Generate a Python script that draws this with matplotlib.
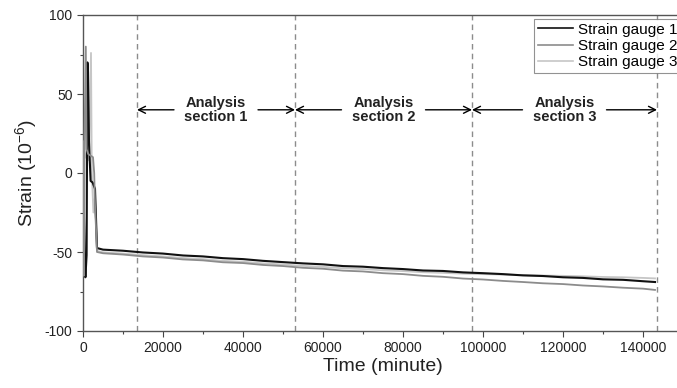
import matplotlib
matplotlib.use("Agg")
import matplotlib.pyplot as plt
from matplotlib.ticker import MultipleLocator

plt.rcParams["font.family"] = ["Liberation Sans", "DejaVu Sans"]
plt.rcParams["mathtext.default"] = "regular"
plt.rcParams["axes.unicode_minus"] = False

# ── Data ───────────────────────────────────────────────────────────
# start-up transient (minutes, microstrain)
t_start_1 = [0, 400, 600, 900, 1100, 1250, 1500, 1900, 2400, 3000]
g1_start = [15, -55, -66, -52, 70, 64, 20, -5, -6, -10]

t_start_2 = [0, 200, 400, 700, 900, 1300, 2500, 2800, 3000]
g2_start = [20, -65, 24, 80, 15, 12, 10, 0, -20]

t_start_3 = [0, 600, 1500, 2000, 2200, 2600, 3000]
g3_start = [20, 10, 8, 76, 0, -25, -15]

# long-term creep
t_steady = [3500, 5000, 10000, 15000, 20000, 25000, 30000, 35000, 40000, 45000,
            50000, 55000, 60000, 65000, 70000, 75000, 80000, 85000, 90000, 95000,
            100000, 105000, 110000, 115000, 120000, 125000, 130000, 135000, 140000, 143000]
g1_steady = [-47.5, -48.5, -49.2, -50.3, -51.0, -52.2, -52.8, -53.9, -54.5, -55.6,
             -56.4, -57.2, -57.8, -58.9, -59.3, -60.2, -60.8, -61.7, -62.0, -62.9,
             -63.4, -64.0, -64.8, -65.2, -66.0, -66.4, -67.3, -67.6, -68.5, -69.0]
g2_steady = [-50.0, -50.8, -51.6, -52.8, -53.5, -54.7, -55.3, -56.5, -57.0, -58.2,
             -58.9, -60.0, -60.6, -61.8, -62.3, -63.4, -64.0, -65.1, -65.7, -66.8,
             -67.4, -68.3, -69.0, -69.8, -70.3, -71.2, -71.8, -72.6, -73.2, -74.0]
g3_steady = [-49.3, -50.2, -51.0, -52.0, -52.8, -53.8, -54.5, -55.6, -56.2, -57.2,
             -57.9, -58.8, -59.4, -60.3, -60.8, -61.6, -62.1, -62.8, -63.2, -63.7,
             -64.0, -64.3, -64.6, -64.9, -65.1, -65.4, -65.8, -66.0, -66.4, -66.7]

section_bounds = [13500, 53000, 97250, 143500]
section_names = ["Analysis\nsection 1", "Analysis\nsection 2", "Analysis\nsection 3"]
arrow_y = 40

# ── Figure ─────────────────────────────────────────────────────────
fig = plt.figure(figsize=(6.77, 3.88), dpi=100)
ax = fig.add_axes([83 / 677, 1 - 331 / 388, 600 / 677, 316 / 388])

ax.plot(t_start_1 + t_steady, g1_start + g1_steady, color="#111111", lw=1.5, label="Strain gauge 1", zorder=2)
ax.plot(t_start_2 + t_steady, g2_start + g2_steady, color="#8c8c8c", lw=1.3, label="Strain gauge 2", zorder=3)
ax.plot(t_start_3 + t_steady, g3_start + g3_steady, color="#c6c6c6", lw=1.3, label="Strain gauge 3", zorder=1)

for xb in section_bounds:
    ax.axvline(xb, color="#8c8c8c", ls=(0, (4, 3)), lw=1.0, zorder=0)

# arrows and labels for each section
for i, name in enumerate(section_names):
    x0, x1 = section_bounds[i], section_bounds[i + 1]
    xc = (x0 + x1) / 2
    gap = 10500
    arrow = dict(arrowstyle="->,head_length=0.5,head_width=0.25", color="black", lw=1.0,
                 shrinkA=0, shrinkB=0)
    ax.annotate("", xy=(x0, arrow_y), xytext=(xc - gap, arrow_y), arrowprops=arrow)
    ax.annotate("", xy=(x1, arrow_y), xytext=(xc + gap, arrow_y), arrowprops=arrow)
    ax.text(xc, arrow_y, name, ha="center", va="center", fontsize=10.5,
            fontweight="bold", color="#222222", linespacing=1.05)

ax.set_xlim(0, 150000)
ax.set_ylim(-100, 100)
ax.xaxis.set_major_locator(MultipleLocator(20000))
ax.xaxis.set_minor_locator(MultipleLocator(10000))
ax.yaxis.set_major_locator(MultipleLocator(50))
ax.yaxis.set_minor_locator(MultipleLocator(25))
ax.tick_params(which="major", length=4, width=0.8, colors="#444444", labelcolor="#222222", labelsize=10)
ax.tick_params(which="minor", length=2.5, width=0.8, colors="#444444")

for side in ["left", "bottom", "top"]:
    ax.spines[side].set_color("#555555")
    ax.spines[side].set_linewidth(1.0)
ax.spines["right"].set_visible(False)

ax.set_xlabel("Time (minute)", fontsize=14, color="#222222", labelpad=2)
ax.set_ylabel("Strain (10$^{-6}$)", fontsize=14, color="#222222", labelpad=4)

leg = ax.legend(loc="upper right", bbox_to_anchor=(681 / 677, 1 - 19 / 388),
                bbox_transform=fig.transFigure, fontsize=11, frameon=True, fancybox=False,
                handlelength=2.3, handletextpad=0.3, labelspacing=0.15, borderpad=0.25,
                borderaxespad=0)
leg.get_frame().set_edgecolor("#777777")
leg.get_frame().set_linewidth(0.8)
for line in leg.get_lines():
    line.set_linewidth(1.2)

fig.savefig("out.png", dpi=100)
